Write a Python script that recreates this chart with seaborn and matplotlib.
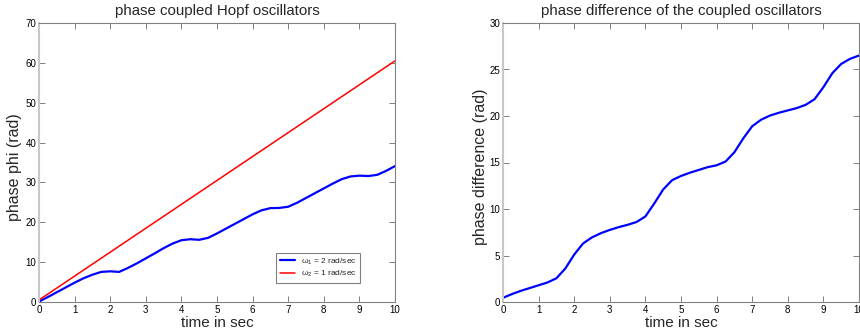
import numpy as np
import pandas as pd
import matplotlib
matplotlib.use("Agg")
import matplotlib.pyplot as plt
import seaborn as sns

# ---- data ----
t = [0.0, 0.25, 0.5, 0.75, 1.0, 1.25, 1.5, 1.75, 2.0, 2.25, 2.5, 2.75, 3.0, 3.25,
     3.5, 3.75, 4.0, 4.25, 4.5, 4.75, 5.0, 5.25, 5.5, 5.75, 6.0, 6.25, 6.5, 6.75,
     7.0, 7.25, 7.5, 7.75, 8.0, 8.25, 8.5, 8.75, 9.0, 9.25, 9.5, 9.75, 10.0]

phi1 = [0.1, 1.25, 2.45, 3.65, 4.85, 5.95, 6.85, 7.55, 7.7, 7.55, 8.55, 9.7, 10.95,
        12.2, 13.5, 14.65, 15.5, 15.75, 15.6, 16.1, 17.2, 18.4, 19.6, 20.8, 22.0,
        23.0, 23.55, 23.6, 23.9, 24.9, 26.1, 27.3, 28.5, 29.7, 30.8, 31.5, 31.7,
        31.6, 31.9, 32.9, 34.1]

phi2 = [0.5, 2.0, 3.5, 5.0, 6.5, 8.0, 9.5, 11.0, 12.5, 14.0, 15.5, 17.0, 18.5, 20.0,
        21.5, 23.0, 24.5, 26.0, 27.5, 29.0, 30.5, 32.0, 33.5, 35.0, 36.5, 38.0,
        39.5, 41.0, 42.5, 44.0, 45.5, 47.0, 48.5, 50.0, 51.5, 53.0, 54.5, 56.0,
        57.5, 59.0, 60.5]

dphi = [0.45, 0.85, 1.2, 1.5, 1.8, 2.1, 2.55, 3.6, 5.1, 6.3, 6.95, 7.4, 7.75, 8.05,
        8.3, 8.6, 9.2, 10.6, 12.1, 13.1, 13.55, 13.9, 14.2, 14.5, 14.7, 15.1, 16.1,
        17.6, 18.9, 19.6, 20.05, 20.35, 20.6, 20.85, 21.2, 21.8, 23.1, 24.6, 25.6,
        26.15, 26.5]

labels = [r"$\omega_1$ = 2 rad/sec", r"$\omega_2$ = 1 rad/sec"]
xticks = list(range(0, 11))
yticks_left = [0, 10, 20, 30, 40, 50, 60, 70]
yticks_right = [0, 5, 10, 15, 20, 25, 30]

# ---- style ----
sns.set_style("white")
plt.rcParams["font.family"] = ["Liberation Sans", "DejaVu Sans"]
plt.rcParams["mathtext.fontset"] = "custom"
plt.rcParams["mathtext.rm"] = "Liberation Sans"
plt.rcParams["mathtext.it"] = "Liberation Sans"
plt.rcParams["mathtext.bf"] = "Liberation Sans:bold"

fig = plt.figure(figsize=(8.6, 3.35), dpi=100)
ax1 = fig.add_axes([39/860, 33/335, 356/860, 279/335])
ax2 = fig.add_axes([503/860, 33/335, 356/860, 279/335])

df = pd.DataFrame({"t": t, "phi1": phi1, "phi2": phi2, "dphi": dphi})

sns.lineplot(data=df, x="t", y="phi1", ax=ax1, color="#0000ff", linewidth=1.6, label=labels[0])
sns.lineplot(data=df, x="t", y="phi2", ax=ax1, color="#ff0000", linewidth=1.1, label=labels[1])
sns.lineplot(data=df, x="t", y="dphi", ax=ax2, color="#0000ff", linewidth=1.6)

def style(ax, yt, ymax, title, ylabel, lx):
    ax.set_xlim(0, 10)
    ax.set_ylim(0, ymax)
    ax.set_xticks(xticks)
    ax.set_yticks(yt)
    ax.set_xticklabels([str(v) for v in xticks])
    ax.set_yticklabels([str(v) for v in yt])
    ax.tick_params(direction="in", length=4, width=0.7, colors="#808080",
                   labelcolor="black", labelsize=7, top=True, right=True,
                   left=True, bottom=True, pad=2)
    for s in ax.spines.values():
        s.set_visible(True)
        s.set_color("#808080")
        s.set_linewidth(0.8)
    ax.spines["left"].set_color("#c8c8c8")
    ax.spines["left"].set_linewidth(1.5)
    ax.set_title(title, fontsize=10.8, pad=6)
    ax.set_xlabel("time in sec", fontsize=11, labelpad=1)
    ax.set_ylabel(ylabel, fontsize=11.5)
    ax.yaxis.set_label_coords(lx, 0.485)
    ax.grid(False)

style(ax1, yticks_left, 70, "phase coupled Hopf oscillators", "phase phi (rad)", -0.048)
style(ax2, yticks_right, 30, "phase difference of the coupled oscillators",
      "phase difference (rad)", -0.042)

leg = ax1.legend(loc="lower right", bbox_to_anchor=(0.902, 0.068), borderaxespad=0,
                 fontsize=6, frameon=True, fancybox=False, framealpha=1,
                 edgecolor="#808080", handlelength=1.8, borderpad=0.45,
                 labelspacing=0.3, handletextpad=0.7)
leg.get_frame().set_linewidth(0.8)

fig.savefig("out.png", dpi=100)
